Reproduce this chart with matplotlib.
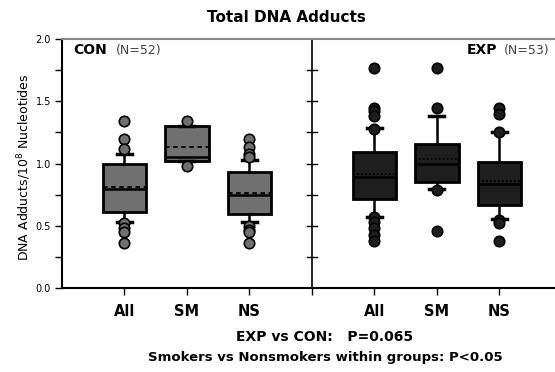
import matplotlib
matplotlib.use("Agg")
import matplotlib.pyplot as plt
from matplotlib.ticker import MultipleLocator, FormatStrFormatter

plt.rcParams['font.family'] = ['DejaVu Sans']

groups = ["CON", "EXP"]
categories = ["All", "SM", "NS"]
# per box: q1, median, q3, whisker low, whisker high, mean, outliers
con_q1 = [0.61, 1.025, 0.595]
con_med = [0.80, 1.05, 0.745]
con_q3 = [1.00, 1.30, 0.93]
con_wlo = [0.53, 1.025, 0.53]
con_whi = [1.08, 1.30, 1.03]
con_mean = [0.815, 1.135, 0.765]
con_fliers = [[1.34, 1.20, 1.12, 0.52, 0.48, 0.45, 0.36],
              [1.34, 0.98],
              [1.20, 1.13, 1.08, 1.05, 0.50, 0.47, 0.45, 0.36]]

exp_q1 = [0.72, 0.85, 0.665]
exp_med = [0.895, 0.995, 0.835]
exp_q3 = [1.095, 1.155, 1.01]
exp_wlo = [0.575, 0.80, 0.555]
exp_whi = [1.29, 1.38, 1.255]
exp_mean = [0.915, 1.04, 0.86]
exp_fliers = [[1.77, 1.45, 1.42, 1.38, 1.28, 0.57, 0.53, 0.48, 0.43, 0.38],
              [1.77, 1.45, 0.79, 0.46],
              [1.45, 1.40, 1.25, 0.55, 0.52, 0.38]]

fig = plt.figure(figsize=(5.55, 3.72), dpi=100)
ax = fig.add_axes([62/555, 1-288.3/372, 1-62/555, (288.3-39)/372])

def stats(q1, med, q3, wlo, whi, mean, fl):
    return [dict(q1=a, med=b, q3=c, whislo=d, whishi=e, mean=f, fliers=g)
            for a, b, c, d, e, f, g in zip(q1, med, q3, wlo, whi, mean, fl)]

def draw(st, pos, face, mean_ls):
    ax.bxp(st, positions=pos, widths=0.7, showmeans=True, meanline=True,
           patch_artist=True, showcaps=True,
           boxprops=dict(facecolor=face, edgecolor='black', linewidth=2),
           medianprops=dict(color='black', linewidth=1.8),
           meanprops=dict(color='black', linestyle=mean_ls, linewidth=1.3),
           whiskerprops=dict(color='black', linewidth=1.8),
           capprops=dict(color='black', linewidth=2.5),
           capwidths=0.24,
           flierprops=dict(marker='o', markerfacecolor=face, markeredgecolor='black',
                           markersize=7.5, markeredgewidth=1.2))

draw(stats(con_q1, con_med, con_q3, con_wlo, con_whi, con_mean, con_fliers),
     [1, 2, 3], '#707070', (0, (2.5, 2)))
draw(stats(exp_q1, exp_med, exp_q3, exp_wlo, exp_whi, exp_mean, exp_fliers),
     [5, 6, 7], '#1e1e1e', (0, (1, 1.2)))

ax.set_xlim(0, 7.89)
ax.set_ylim(0, 2.0)
ax.set_xticks([1, 2, 3, 4, 5, 6, 7])
ax.set_xticklabels(categories + [""] + categories, fontsize=10.5, fontweight='bold')
ax.yaxis.set_major_locator(MultipleLocator(0.5))
ax.yaxis.set_minor_locator(MultipleLocator(0.25))
ax.yaxis.set_major_formatter(FormatStrFormatter('%.1f'))
ax.tick_params(axis='y', which='both', labelsize=7, length=5, width=1, direction='out', pad=3)
ax.tick_params(axis='x', length=5, width=1, pad=6)

ax.spines['right'].set_visible(False)
ax.spines['top'].set_color('#888888')
ax.spines['top'].set_linewidth(1.5)
ax.spines['left'].set_linewidth(1.5)
ax.spines['bottom'].set_linewidth(1.5)

# divider
ax.axvline(4, color='black', linewidth=1.2)
for yv in [0.25, 0.5, 0.75, 1.0, 1.25, 1.5, 1.75]:
    ax.plot([3.92, 4.08], [yv, yv], color='black', linewidth=1)

fig.text(24/555, 1-167.5/372, "DNA Adducts/10$^8$ Nucleotides", fontsize=9,
         rotation=90, ha='center', va='center')

ax.text(0.18, 1.91, "CON", fontsize=10, fontweight='bold', va='center')
ax.text(0.86, 1.91, "(N=52)", fontsize=9, color='#444444', va='center')
ax.text(6.48, 1.91, "EXP", fontsize=10, fontweight='bold', va='center', ha='left')
ax.text(7.07, 1.91, "(N=53)", fontsize=9, color='#444444', va='center', ha='left')

fig.text(286/555, 1-18/372, "Total DNA Adducts", fontsize=11, fontweight='bold',
         ha='center', va='center')
fig.text(325/555, 1-337/372, "EXP vs CON:   P=0.065", fontsize=10, fontweight='bold',
         ha='center', va='center')
fig.text(325/555, 1-357/372, "Smokers vs Nonsmokers within groups: P<0.05", fontsize=9.5,
         fontweight='bold', ha='center', va='center')

fig.savefig("out.png", dpi=100)
